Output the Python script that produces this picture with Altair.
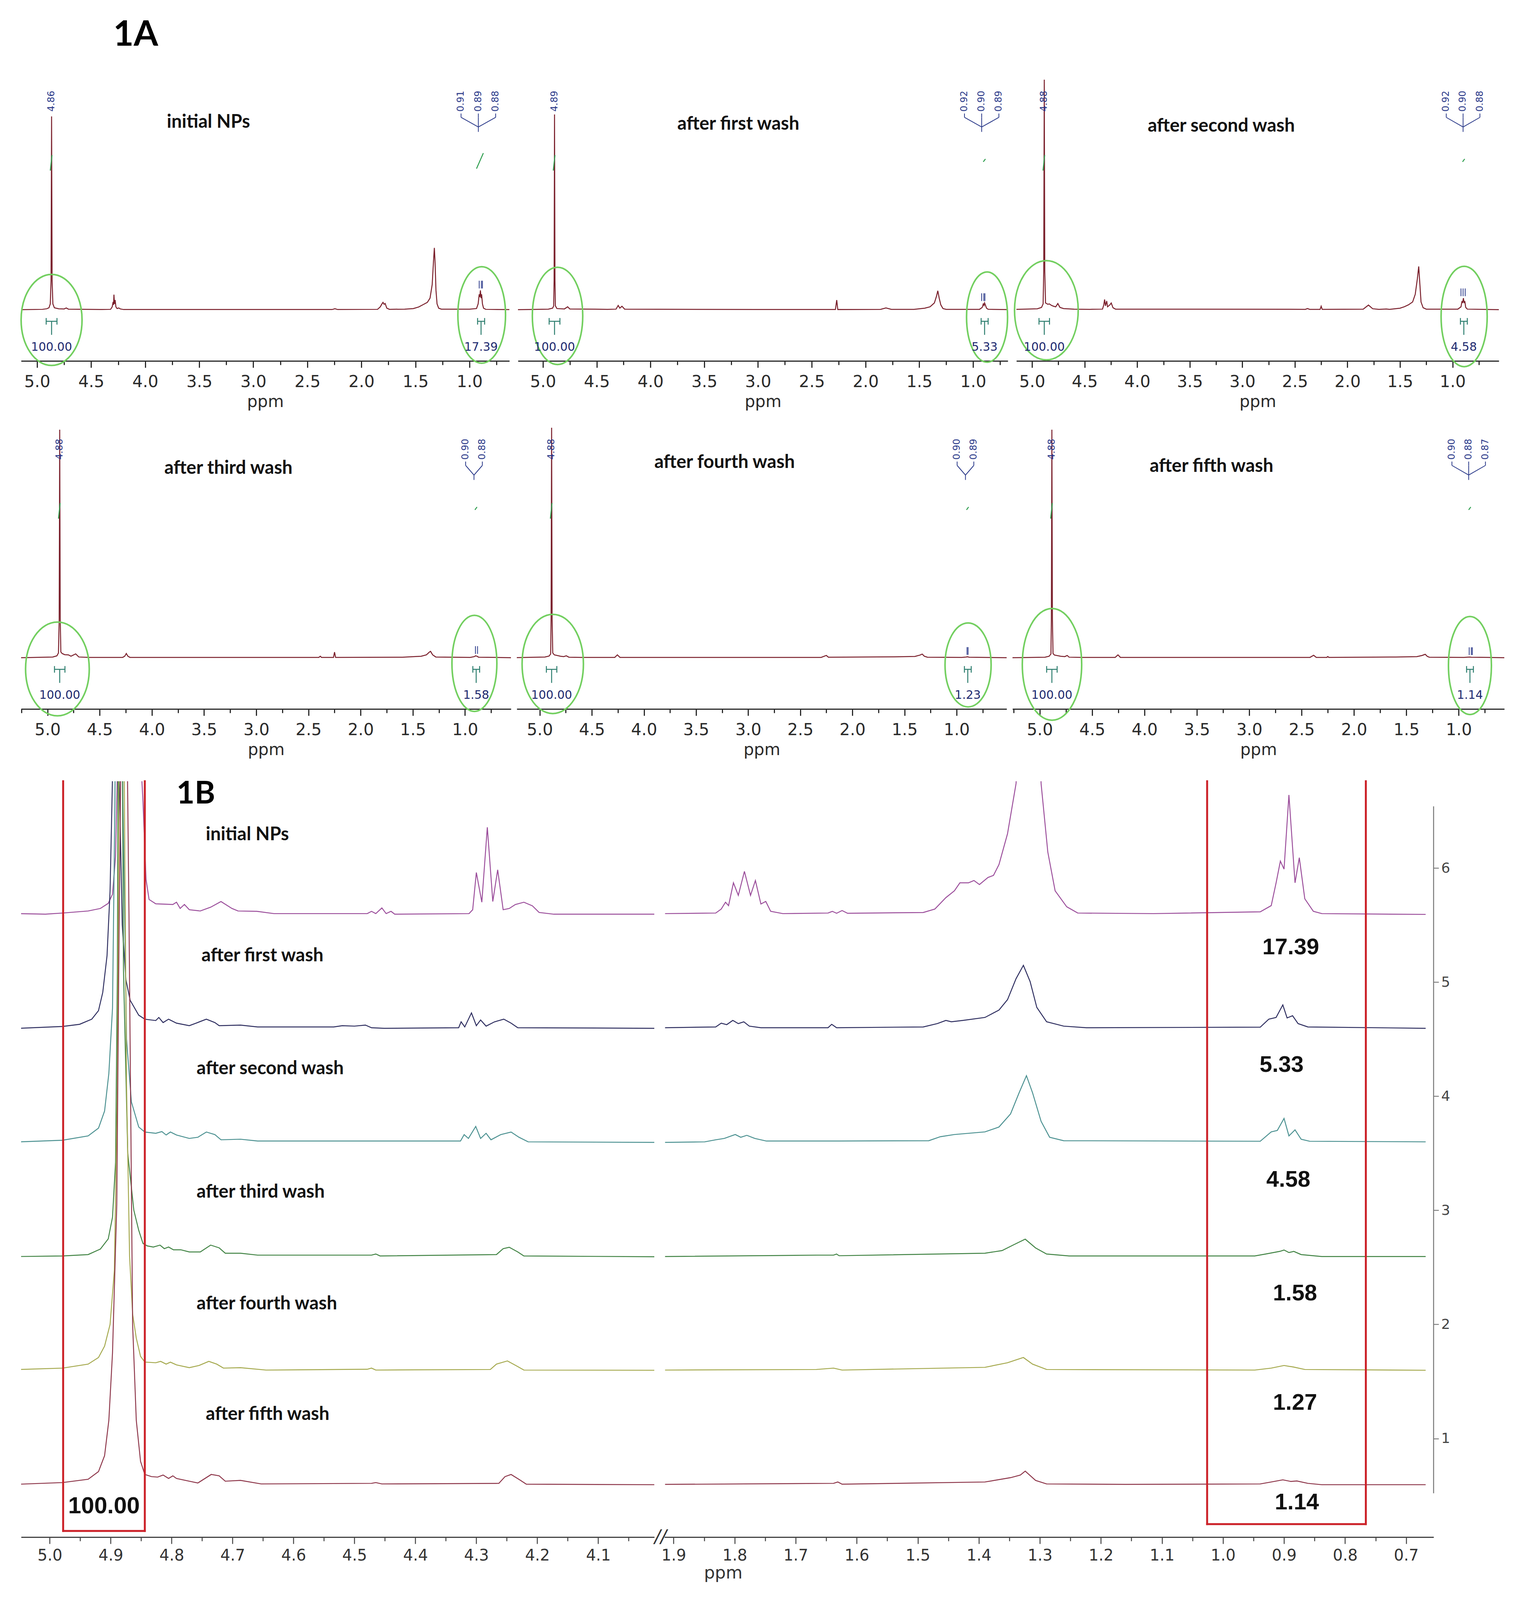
import altair as alt
import pandas as pd

# =====================================================================
# DATA  -  Figure 1A : one 1H-NMR spectrum per panel (ppm, intensity)
# =====================================================================
A_TITLES = ["initial NPs", "after first wash", "after second wash",
            "after third wash", "after fourth wash", "after fifth wash"]

A_SPEC_INIT = [(5.149, 0), (4.95, 0.2), (4.91, 0.5), (4.89, 1.0), (4.878, 3), (4.871, 15), (4.866, 100),
               (4.861, 15), (4.854, 3), (4.84, 1.0), (4.80, 0.5), (4.75, 0.4), (4.73, 0.9), (4.71, 0.3),
               (4.40, 0.1), (4.32, 0.2), (4.305, 1.5), (4.297, 4), (4.293, 2.5), (4.289, 7.8), (4.284, 3),
               (4.278, 5), (4.271, 1.5), (4.26, 0.6), (4.245, 0.9), (4.23, 0.4), (4.20, 0.1), (2.27, 0.1),
               (2.245, 0.5), (2.22, 0.1), (1.85, 0.2), (1.825, 1.5), (1.81, 3), (1.80, 3.8), (1.79, 2.8),
               (1.78, 3.2), (1.765, 0.8), (1.74, 0.2), (1.60, 0.3), (1.52, 0.6), (1.47, 1.4), (1.43, 2.6),
               (1.39, 3.8), (1.365, 6), (1.345, 13), (1.333, 25), (1.325, 32), (1.318, 24), (1.31, 10),
               (1.30, 3), (1.285, 0.8), (1.26, 0.3), (1.00, 0.3), (0.935, 0.6), (0.92, 3), (0.91, 8),
               (0.905, 6.5), (0.899, 10), (0.893, 6), (0.888, 8), (0.88, 3), (0.87, 0.8), (0.85, 0.2), (0.52, 0)]
A_SPEC_W1 = [(5.26, 0), (4.95, 0.3), (4.91, 0.8), (4.90, 2), (4.896, 15), (4.892, 101), (4.888, 15), (4.884, 2),
             (4.87, 0.6), (4.80, 0.4), (4.77, 1.5), (4.75, 0.4), (4.40, 0.2), (4.32, 0.3), (4.30, 2.2),
             (4.285, 0.8), (4.265, 1.8), (4.24, 0.3), (3.0, 0.1), (2.28, 0.1), (2.268, 5), (2.258, 0.1),
             (1.86, 0.2), (1.81, 0.9), (1.76, 0.2), (1.55, 0.2), (1.45, 0.8), (1.40, 1.5), (1.36, 3.5),
             (1.34, 7), (1.328, 9.8), (1.315, 6), (1.30, 2.5), (1.28, 0.6), (1.25, 0.2), (0.94, 0.2),
             (0.915, 1.2), (0.905, 3), (0.898, 2.2), (0.893, 3.5), (0.886, 2.5), (0.875, 0.8), (0.86, 0.2), (0.52, 0)]
A_SPEC_W2 = [(5.26, 0), (4.95, 0.5), (4.91, 1.2), (4.895, 3), (4.889, 20), (4.884, 119), (4.879, 20), (4.872, 3.5),
             (4.85, 2.8), (4.835, 3), (4.815, 2.2), (4.795, 1.8), (4.775, 1.5), (4.755, 3.2), (4.735, 1.2),
             (4.70, 0.6), (4.60, 0.3), (4.45, 0.2), (4.33, 0.3), (4.318, 2.5), (4.31, 5.3), (4.302, 2),
             (4.29, 4.5), (4.282, 1.5), (4.26, 2.5), (4.247, 3.5), (4.23, 1), (4.206, 0.3), (2.40, 0.2),
             (2.38, 0.6), (2.36, 0.2), (2.26, 0.2), (2.25, 1.8), (2.24, 0.2), (1.85, 0.3), (1.80, 2.4),
             (1.76, 0.5), (1.70, 0.2), (1.63, 0.4), (1.60, 0.2), (1.50, 0.8), (1.46, 1.5), (1.42, 2.5),
             (1.38, 4), (1.355, 8), (1.335, 16), (1.322, 22.4), (1.312, 14), (1.30, 4), (1.28, 1), (1.25, 0.3),
             (0.95, 0.3), (0.92, 1.5), (0.91, 4.5), (0.904, 3.5), (0.897, 6), (0.89, 3.5), (0.884, 4.5),
             (0.875, 1.2), (0.86, 0.3), (0.52, 0)]
A_SPEC_W3 = [(5.26, 0), (4.95, 0.4), (4.91, 1.0), (4.895, 2.5), (4.888, 20), (4.883, 118), (4.878, 20), (4.872, 3),
             (4.86, 2.2), (4.835, 1.6), (4.80, 1.5), (4.775, 0.8), (4.73, 2), (4.70, 0.4), (4.60, 0.2),
             (4.28, 0.2), (4.26, 0.8), (4.245, 2.2), (4.23, 0.8), (4.21, 0.2), (2.40, 0.2), (2.387, 0.8),
             (2.375, 0.2), (2.26, 0.2), (2.25, 2.9), (2.24, 0.2), (1.60, 0.3), (1.42, 0.8), (1.37, 1.5),
             (1.34, 3.0), (1.33, 3.3), (1.31, 1.5), (1.28, 0.4), (0.95, 0.2), (0.91, 0.6), (0.90, 1.0),
             (0.885, 0.8), (0.87, 0.3), (0.52, 0)]
A_SPEC_W4 = [(5.26, 0), (4.95, 0.4), (4.91, 0.9), (4.895, 2), (4.891, 20), (4.886, 120), (4.881, 20), (4.875, 2.5),
             (4.86, 1.5), (4.80, 0.8), (4.77, 0.6), (4.745, 1.0), (4.72, 0.3), (4.60, 0.2), (4.28, 0.2),
             (4.255, 1.5), (4.23, 0.2), (2.30, 0.2), (2.25, 1.2), (2.23, 0.3), (1.60, 0.5), (1.40, 0.7),
             (1.35, 1.4), (1.33, 1.9), (1.31, 0.8), (1.28, 0.3), (0.95, 0.2), (0.91, 0.4), (0.895, 0.5),
             (0.88, 0.3), (0.52, 0)]
A_SPEC_W5 = [(5.26, 0), (4.95, 0.3), (4.91, 0.8), (4.893, 2), (4.889, 20), (4.884, 118), (4.879, 20), (4.873, 2.2),
             (4.86, 1.4), (4.80, 0.8), (4.76, 0.6), (4.738, 1.2), (4.72, 0.3), (4.60, 0.2), (4.28, 0.2),
             (4.253, 1.5), (4.23, 0.2), (2.42, 0.2), (2.385, 1.3), (2.36, 0.2), (2.26, 0.2), (2.25, 0.6),
             (2.24, 0.2), (1.60, 0.4), (1.40, 0.6), (1.35, 1.2), (1.32, 1.8), (1.30, 0.7), (1.28, 0.3),
             (0.95, 0.2), (0.91, 0.35), (0.895, 0.4), (0.88, 0.3), (0.52, 0)]
A_SPECS = [A_SPEC_INIT, A_SPEC_W1, A_SPEC_W2, A_SPEC_W3, A_SPEC_W4, A_SPEC_W5]

A_MAIN_SHIFT = ["4.86", "4.89", "4.88", "4.88", "4.88", "4.88"]
A_MAIN_PPM = [4.866, 4.892, 4.884, 4.883, 4.886, 4.884]
A_MULT_SHIFTS = [["0.91", "0.89", "0.88"], ["0.92", "0.90", "0.89"], ["0.92", "0.90", "0.88"],
                 ["0.90", "0.88"], ["0.90", "0.89"], ["0.90", "0.88", "0.87"]]
A_INT_MAIN = ["100.00", "100.00", "100.00", "100.00", "100.00", "100.00"]
A_INT_CH3 = ["17.39", "5.33", "4.58", "1.58", "1.23", "1.14"]

# =====================================================================
# DATA  -  Figure 1B : stacked spectra (ppm, height above own baseline)
# =====================================================================
B_NAMES = A_TITLES
B_OFFSETS = [5.6, 4.6, 3.6, 2.6, 1.6, 0.6]
B_INIT = [(5.049, 0.0), (5.007, -0.005), (4.979, 0.005), (4.937, 0.023), (4.917, 0.045), (4.904, 0.09),
          (4.897, 0.17), (4.892, 0.5), (4.888, 1.5), (4.870, 9.0), (4.852, 1.5), (4.847, 0.98), (4.842, 0.30),
          (4.837, 0.124), (4.826, 0.086), (4.798, 0.08), (4.792, 0.10), (4.786, 0.045), (4.779, 0.08),
          (4.771, 0.034), (4.753, 0.023), (4.736, 0.056), (4.719, 0.106), (4.701, 0.045), (4.691, 0.023),
          (4.660, 0.02), (4.632, 0.0), (4.479, 0.0), (4.472, 0.02), (4.465, 0.0), (4.455, 0.05), (4.448, 0.0),
          (4.440, 0.02), (4.434, -0.005), (4.312, 0.0), (4.306, 0.034), (4.300, 0.36), (4.291, 0.10),
          (4.282, 0.757), (4.273, 0.106), (4.265, 0.384), (4.256, 0.034), (4.246, 0.045), (4.236, 0.08),
          (4.222, 0.10), (4.208, 0.068), (4.197, 0.01), (4.173, -0.005), (4.008, -0.005),
          (1.914, 0.0), (1.831, 0.005), (1.822, 0.04), (1.815, 0.10), (1.810, 0.07), (1.802, 0.27),
          (1.794, 0.16), (1.784, 0.37), (1.774, 0.16), (1.766, 0.29), (1.757, 0.084), (1.749, 0.107),
          (1.741, 0.02), (1.721, 0.0), (1.647, 0.005), (1.640, 0.02), (1.633, 0.003), (1.624, 0.027),
          (1.615, 0.003), (1.491, 0.01), (1.472, 0.04), (1.454, 0.14), (1.440, 0.20), (1.431, 0.27),
          (1.417, 0.27), (1.408, 0.29), (1.399, 0.255), (1.385, 0.317), (1.376, 0.335), (1.367, 0.43),
          (1.353, 0.70), (1.339, 1.14), (1.327, 2.5), (1.316, 3.2), (1.305, 2.5), (1.298, 1.14), (1.287, 0.54),
          (1.275, 0.20), (1.256, 0.06), (1.238, 0.005), (1.114, 0.0), (0.939, 0.016), (0.921, 0.07),
          (0.913, 0.27), (0.906, 0.46), (0.900, 0.39), (0.892, 1.04), (0.882, 0.27), (0.875, 0.49),
          (0.866, 0.13), (0.852, 0.02), (0.838, 0.0), (0.668, -0.007)]
B_WASH1 = [(5.049, -0.005), (4.979, 0.011), (4.951, 0.03), (4.931, 0.075), (4.920, 0.15), (4.913, 0.31),
           (4.906, 0.63), (4.901, 1.2), (4.897, 2.2), (4.892, 9.0), (4.886, 2.2), (4.881, 0.9), (4.875, 0.42),
           (4.868, 0.24), (4.854, 0.11), (4.844, 0.075), (4.826, 0.063), (4.821, 0.09), (4.814, 0.045),
           (4.805, 0.075), (4.792, 0.04), (4.771, 0.018), (4.760, 0.04), (4.743, 0.075), (4.729, 0.045),
           (4.722, 0.018), (4.687, 0.023), (4.659, 0.007), (4.534, 0.007), (4.520, 0.018), (4.500, 0.014),
           (4.482, 0.023), (4.472, 0.0), (4.451, -0.005), (4.329, 0.0), (4.325, 0.052), (4.319, 0.007),
           (4.308, 0.13), (4.300, 0.018), (4.293, 0.068), (4.284, 0.014), (4.270, 0.052), (4.255, 0.075),
           (4.243, 0.04), (4.232, 0.0), (4.008, -0.005),
           (1.914, 0.0), (1.831, 0.007), (1.822, 0.04), (1.813, 0.027), (1.803, 0.064), (1.794, 0.036),
           (1.785, 0.052), (1.776, 0.014), (1.757, 0.0), (1.647, 0.0), (1.641, 0.03), (1.633, 0.0),
           (1.491, 0.007), (1.468, 0.036), (1.454, 0.064), (1.445, 0.052), (1.426, 0.064), (1.390, 0.09),
           (1.367, 0.155), (1.353, 0.246), (1.339, 0.43), (1.327, 0.547), (1.316, 0.405), (1.305, 0.178),
           (1.289, 0.052), (1.261, 0.014), (1.224, 0.0), (0.939, 0.005), (0.925, 0.075), (0.913, 0.09),
           (0.902, 0.20), (0.895, 0.086), (0.886, 0.105), (0.877, 0.036), (0.861, 0.007), (0.668, -0.005)]
B_WASH2 = [(5.049, 0.0), (4.979, 0.014), (4.937, 0.052), (4.920, 0.12), (4.910, 0.27), (4.903, 0.6),
           (4.897, 1.17), (4.893, 3.0), (4.887, 9.0), (4.880, 3.0), (4.874, 0.9), (4.866, 0.35), (4.854, 0.13),
           (4.844, 0.086), (4.826, 0.075), (4.816, 0.09), (4.809, 0.06), (4.802, 0.086), (4.792, 0.06),
           (4.771, 0.03), (4.757, 0.04), (4.743, 0.086), (4.729, 0.063), (4.719, 0.018), (4.687, 0.023),
           (4.659, 0.007), (4.465, 0.007), (4.326, 0.007), (4.320, 0.063), (4.313, 0.03), (4.301, 0.135),
           (4.293, 0.03), (4.284, 0.075), (4.276, 0.018), (4.260, 0.063), (4.243, 0.086), (4.230, 0.04),
           (4.215, 0.0), (4.008, -0.005),
           (1.914, -0.005), (1.849, 0.0), (1.831, 0.018), (1.817, 0.03), (1.799, 0.064), (1.790, 0.04),
           (1.780, 0.057), (1.767, 0.03), (1.748, 0.007), (1.629, 0.007), (1.482, 0.01), (1.463, 0.045),
           (1.440, 0.064), (1.390, 0.087), (1.367, 0.13), (1.348, 0.245), (1.334, 0.43), (1.322, 0.58),
           (1.312, 0.43), (1.298, 0.18), (1.284, 0.04), (1.261, 0.01), (0.939, 0.005), (0.921, 0.087),
           (0.911, 0.10), (0.900, 0.205), (0.892, 0.052), (0.882, 0.105), (0.872, 0.023), (0.858, 0.005),
           (0.668, 0.0)]
B_WASH3 = [(5.049, -0.005), (4.979, 0.0), (4.937, 0.012), (4.917, 0.06), (4.904, 0.15), (4.897, 0.34),
           (4.892, 0.82), (4.889, 2.5), (4.885, 9.0), (4.879, 2.5), (4.872, 0.9), (4.862, 0.40), (4.854, 0.225),
           (4.847, 0.11), (4.840, 0.088), (4.830, 0.078), (4.819, 0.095), (4.812, 0.064), (4.805, 0.078),
           (4.797, 0.054), (4.785, 0.054), (4.771, 0.035), (4.753, 0.035), (4.736, 0.095), (4.722, 0.071),
           (4.712, 0.024), (4.687, 0.024), (4.659, 0.007), (4.472, 0.007), (4.465, 0.017), (4.458, 0.0),
           (4.267, 0.012), (4.256, 0.064), (4.246, 0.076), (4.232, 0.035), (4.222, 0.0), (4.008, -0.007),
           (1.914, -0.005), (1.666, 0.007), (1.638, 0.007), (1.633, 0.017), (1.629, 0.002), (1.390, 0.024),
           (1.362, 0.047), (1.344, 0.095), (1.324, 0.147), (1.307, 0.07), (1.289, 0.017), (1.252, 0.0),
           (0.948, 0.0), (0.930, 0.017), (0.907, 0.04), (0.900, 0.052), (0.892, 0.03), (0.884, 0.04),
           (0.872, 0.012), (0.838, -0.005), (0.668, -0.005)]
B_WASH4 = [(5.049, 0.005), (4.979, 0.017), (4.937, 0.052), (4.920, 0.11), (4.910, 0.21), (4.901, 0.4),
           (4.894, 0.87), (4.889, 2.5), (4.883, 9.0), (4.874, 2.5), (4.869, 1.0), (4.864, 0.49), (4.858, 0.28),
           (4.851, 0.12), (4.844, 0.07), (4.826, 0.064), (4.818, 0.076), (4.809, 0.052), (4.802, 0.069),
           (4.792, 0.045), (4.771, 0.021), (4.755, 0.04), (4.739, 0.076), (4.726, 0.052), (4.715, 0.017),
           (4.687, 0.021), (4.645, 0.0), (4.479, 0.007), (4.472, 0.017), (4.465, 0.0), (4.277, 0.005),
           (4.267, 0.052), (4.249, 0.08), (4.234, 0.036), (4.222, 0.0), (4.008, -0.002),
           (1.914, 0.0), (1.666, 0.005), (1.638, 0.017), (1.624, 0.0), (1.390, 0.024), (1.353, 0.064),
           (1.327, 0.11), (1.312, 0.052), (1.289, 0.005), (0.948, 0.0), (0.921, 0.017), (0.900, 0.04),
           (0.884, 0.026), (0.866, 0.005), (0.668, -0.002)]
B_WASH5 = [(5.049, 0.0), (4.979, 0.014), (4.937, 0.043), (4.920, 0.11), (4.910, 0.25), (4.903, 0.56),
           (4.897, 1.15), (4.890, 2.45), (4.886, 5.0), (4.878, 9.0), (4.870, 5.0), (4.864, 1.4), (4.858, 0.56),
           (4.851, 0.2), (4.844, 0.085), (4.833, 0.066), (4.823, 0.062), (4.814, 0.08), (4.805, 0.05),
           (4.798, 0.073), (4.792, 0.05), (4.771, 0.026), (4.757, 0.01), (4.735, 0.085), (4.722, 0.073),
           (4.712, 0.026), (4.687, 0.033), (4.653, 0.002), (4.472, 0.007), (4.465, 0.014), (4.455, 0.002),
           (4.263, 0.007), (4.253, 0.066), (4.243, 0.085), (4.229, 0.038), (4.218, 0.0), (4.008, -0.005),
           (1.914, -0.002), (1.638, 0.007), (1.631, 0.019), (1.624, 0.0), (1.390, 0.019), (1.348, 0.057),
           (1.332, 0.08), (1.324, 0.114), (1.307, 0.033), (1.289, 0.002), (1.160, -0.002), (0.939, 0.002),
           (0.921, 0.019), (0.902, 0.038), (0.889, 0.024), (0.879, 0.028), (0.861, 0.007), (0.838, -0.005),
           (0.668, -0.005)]
B_SPECS = [B_INIT, B_WASH1, B_WASH2, B_WASH3, B_WASH4, B_WASH5]
B_CH3_VALUES = ["17.39", "5.33", "4.58", "1.58", "1.27", "1.14"]
B_MAIN_VALUE = "100.00"
B_Y_TICKS = [1, 2, 3, 4, 5, 6]

# =====================================================================
# LAYOUT / STYLE
# =====================================================================
A_DOM = [(5.148, 0.631), (5.232, 0.677), (5.149, 0.56), (5.253, 0.56), (5.22, 0.52), (5.26, 0.565)]
A_W = [1250, 1254, 1235, 1254, 1254, 1259]
A_H = 720
A_YDOM = [-26.5, 119]
A_TITLE_AT = [(3.80, 97), (3.75, 96), (3.90, 95), (3.88, 98), (3.90, 101), (3.95, 99)]
A_MULT_CENTER = [0.918, 0.92, 0.90, 0.914, 0.915, 0.905]
A_ELLIPSES = [[(4.866, -5.3, 156, 233), (0.887, -2.7, 122, 247)],
              [(4.864, -3.2, 129, 249), (0.870, -3.8, 105, 231)],
              [(4.864, -0.3, 163, 254), (0.890, -3.5, 118, 257)],
              [(4.905, -5.8, 163, 240), (0.910, -2.9, 115, 246)],
              [(4.875, -3.2, 157, 254), (0.890, -3.7, 118, 215)],
              [(4.883, -3.4, 152, 286), (0.893, -4.0, 110, 251)]]
A_TRACE = "#7a1f2b"
A_PICK = "#2b3a8a"
A_INTC = "#2f7f70"
A_INTV = "#1e2a70"
A_ELLC = "#72cf5f"

B_DOM = {"left": (5.047, 4.008), "right": (1.915, 0.655)}
B_W = {"left": 1621, "right": 1969}
B_H = 1935
B_YDOM = [0.136, 6.76]
B_COLORS = ["#9a4c9a", "#2c2c5e", "#4a9090", "#3f8242", "#a4a84c", "#8c3448"]
B_LABEL_AT = [(4.744, 6.29), (4.751, 5.23), (4.759, 4.24), (4.759, 3.16), (4.759, 2.18), (4.744, 1.21)]
B_VALUE_AT = [(0.889, 5.30), (0.904, 4.27), (0.893, 3.265), (0.882, 2.27), (0.882, 1.31), (0.879, 0.437)]
RED = "#cc2229"


def ellipse_path(w, h):
    rx = w / h
    k = 0.5523
    return (f"M0,-1C{k*rx:.4f},-1,{rx:.4f},-{k},{rx:.4f},0"
            f"C{rx:.4f},{k},{k*rx:.4f},1,0,1"
            f"C{-k*rx:.4f},1,{-rx:.4f},{k},{-rx:.4f},0"
            f"C{-rx:.4f},{-k},{-k*rx:.4f},-1,0,-1Z")


def tick_lists(lo, hi, start, step, nmax):
    vals = [round(start - step * k, 2) for k in range(nmax)]
    return [t for t in vals if lo <= t <= hi]


def panel_a(i):
    hi, lo = A_DOM[i]
    xs = alt.Scale(domain=[lo, hi], reverse=True, nice=False, zero=False)
    ys = alt.Scale(domain=A_YDOM, nice=False, zero=False)
    major = tick_lists(lo, hi, 5.5, 0.5, 12)
    minor = tick_lists(lo, hi, 5.25, 0.5, 12)
    ax_major = alt.Axis(values=major, format=".1f", title="ppm", grid=False, domainColor="#2a2a2a",
                        domainWidth=3, tickColor="#2a2a2a", tickWidth=3, tickSize=17,
                        labelFont="DejaVu Sans", labelFontSize=42, labelColor="#2a2a2a", labelPadding=16,
                        labelFlush=False, labelOverlap=False, titleFont="DejaVu Sans", titleFontSize=42,
                        titleFontWeight="normal", titleColor="#2a2a2a", titleY=84)
    ax_minor = alt.Axis(orient="bottom", values=minor, labels=False, domain=False, grid=False, title=None,
                        tickColor="#2a2a2a", tickWidth=3, tickSize=10)
    Xmaj = alt.X("ppm:Q", scale=xs, axis=ax_major)
    Xmin = alt.X("ppm:Q", scale=xs, axis=ax_minor)
    X = alt.X("ppm:Q", scale=xs, axis=None)
    Y = alt.Y("int:Q", scale=ys, axis=None)

    spec = pd.DataFrame(A_SPECS[i], columns=["ppm", "int"])
    layers = [alt.Chart(spec).mark_line(color=A_TRACE, strokeWidth=2.5, clip=True).encode(x=Xmaj, y=Y)]

    ell = pd.DataFrame([{"ppm": p, "int": v, "shape": ellipse_path(w, h), "sz": h * h}
                        for (p, v, w, h) in A_ELLIPSES[i]])
    layers.append(alt.Chart(ell).mark_point(filled=False, opacity=1, stroke=A_ELLC, strokeWidth=4).encode(
        x=Xmin, y=Y, shape=alt.Shape("shape:N", scale=None), size=alt.Size("sz:Q", scale=None)))

    c = A_MAIN_PPM[i]
    cm = A_MULT_CENTER[i]
    seg = []
    for (a, b, s) in [(c + 0.05, c - 0.05, c), (0.925, 0.86, 0.893)]:
        seg += [(a, -6, b, -6), (a, -4.3, a, -7.7), (b, -4.3, b, -7.7), (s, -6, s, -13)]
    pk = []
    labs = A_MULT_SHIFTS[i]
    n = len(labs)
    xl = [cm + 0.16 * ((n - 1) / 2 - j) for j in range(n)]
    for x in xl:
        pk += [(x, 101.5, x, 99.5), (x, 99.5, cm, 94.5)]
    pk.append((cm, 94.5, cm, 92.0))
    hm = max(v for p, v in A_SPECS[i] if 0.86 <= p <= 0.94)
    for t in labs:
        pk.append((float(t), hm + 1.0, float(t), hm + 5.0))
    cur = [(c + 0.012, 72, c - 0.004, 80)]
    cur.append((0.935, 73, 0.872, 81) if i == 0 else (0.905, 76.5, 0.885, 78))

    for rows, col, wd in [(seg, A_INTC, 2.5), (pk, A_PICK, 2), (cur, "#2e9e4e", 2.5)]:
        df = pd.DataFrame(rows, columns=["ppm", "int", "ppm2", "int2"])
        layers.append(alt.Chart(df).mark_rule(color=col, strokeWidth=wd).encode(
            x=X, y=Y, x2="ppm2:Q", y2="int2:Q"))

    tt = pd.DataFrame([{"ppm": A_TITLE_AT[i][0], "int": A_TITLE_AT[i][1], "label": A_TITLES[i]}])
    layers.append(alt.Chart(tt).mark_text(font="Lato", fontWeight="bold", fontSize=47, align="left",
                                          baseline="middle", color="#111").encode(x=X, y=Y, text="label:N"))
    pl = pd.DataFrame([{"ppm": c, "int": 102.5, "label": A_MAIN_SHIFT[i]}] +
                      [{"ppm": x, "int": 102.5, "label": t} for x, t in zip(xl, labs)])
    layers.append(alt.Chart(pl).mark_text(font="DejaVu Sans", fontSize=24, angle=270, align="left",
                                          baseline="middle", color=A_PICK).encode(x=X, y=Y, text="label:N"))
    iv = pd.DataFrame([{"ppm": c, "int": -19.5, "label": A_INT_MAIN[i]},
                       {"ppm": 0.893, "int": -19.5, "label": A_INT_CH3[i]}])
    layers.append(alt.Chart(iv).mark_text(font="DejaVu Sans", fontSize=30, align="center",
                                          baseline="middle", color=A_INTV).encode(x=X, y=Y, text="label:N"))
    if i == 0:
        fa = pd.DataFrame([{"ppm": 4.295, "int": 142, "label": "1A"}])
        layers.append(alt.Chart(fa).mark_text(font="Lato", fontWeight="bold", fontSize=90, align="left",
                                              baseline="middle", color="#000").encode(x=X, y=Y, text="label:N"))
    return alt.layer(*layers).resolve_axis(x="independent").properties(width=A_W[i], height=A_H)


def panel_b(side):
    hi, lo = B_DOM[side]
    xs = alt.Scale(domain=[lo, hi], reverse=True, nice=False, zero=False)
    ys = alt.Scale(domain=B_YDOM, nice=False, zero=False)
    major = tick_lists(lo, hi, 5.0, 0.1, 50)
    minor = tick_lists(lo, hi, 4.95, 0.1, 50)
    common = dict(grid=False, tickColor="#444", tickWidth=2.5, labelFlush=False, labelOverlap=False)
    if side == "right":
        ax_major = alt.Axis(values=major, format=".1f", title="ppm", domainColor="#444", domainWidth=3,
                            tickSize=17, labelFont="DejaVu Sans", labelFontSize=40, labelColor="#333",
                            labelPadding=10, titleFont="DejaVu Sans", titleFontSize=44,
                            titleFontWeight="normal", titleColor="#333", titleX=150, titleY=70,
                            titleAlign="center", **common)
        yax = alt.Axis(orient="right", values=B_Y_TICKS, format="d", domain=False, grid=False,
                       tickSize=13, tickColor="#666", tickWidth=2, labelFont="DejaVu Sans",
                       labelFontSize=36, labelColor="#444", labelPadding=6, title=None)
    else:
        ax_major = alt.Axis(values=major, format=".1f", title=None, domainColor="#444", domainWidth=3,
                            tickSize=17, labelFont="DejaVu Sans", labelFontSize=40, labelColor="#333",
                            labelPadding=10, **common)
        yax = None
    ax_minor = alt.Axis(orient="bottom", values=minor, labels=False, domain=False, title=None,
                        tickSize=10, **common)
    Xmaj = alt.X("ppm:Q", scale=xs, axis=ax_major)
    Xmin = alt.X("ppm:Q", scale=xs, axis=ax_minor)
    X = alt.X("ppm:Q", scale=xs, axis=None)
    Y = alt.Y("val:Q", scale=ys, axis=yax)

    rows = []
    for name, off, spec in zip(B_NAMES, B_OFFSETS, B_SPECS):
        for p, h in spec:
            if (side == "left" and p >= 3) or (side == "right" and p < 3):
                rows.append({"ppm": p, "val": h + off, "trace": name})
    df = pd.DataFrame(rows)
    layers = [alt.Chart(df).mark_line(strokeWidth=2.4, clip=True).encode(
        x=Xmaj, y=Y,
        color=alt.Color("trace:N", scale=alt.Scale(domain=B_NAMES, range=B_COLORS), legend=None))]

    if side == "left":
        box = [(4.978, 0.19, 4.978, 6.76), (4.844, 0.19, 4.844, 6.76), (4.978, 0.19, 4.844, 0.19)]
    else:
        box = [(1.026, 0.25, 1.026, 6.76), (0.766, 0.25, 0.766, 6.76), (1.026, 0.25, 0.766, 0.25)]
    bdf = pd.DataFrame(box, columns=["ppm", "val", "ppm2", "val2"])
    layers.append(alt.Chart(bdf).mark_rule(color=RED, strokeWidth=5, strokeCap="square").encode(
        x=Xmin, y=Y, x2="ppm2:Q", y2="val2:Q"))

    if side == "left":
        lab = pd.DataFrame([{"ppm": p, "val": v, "label": t} for (p, v), t in zip(B_LABEL_AT, B_NAMES)])
        layers.append(alt.Chart(lab).mark_text(font="Lato", fontWeight="bold", fontSize=47, align="left",
                                               baseline="middle", color="#111").encode(x=X, y=Y, text="label:N"))
        fb = pd.DataFrame([{"ppm": 4.792, "val": 6.648, "label": "1B"}])
        layers.append(alt.Chart(fb).mark_text(font="Lato", fontWeight="bold", fontSize=80, align="left",
                                              baseline="middle", color="#000").encode(x=X, y=Y, text="label:N"))
        mv = pd.DataFrame([{"ppm": 4.911, "val": 0.405, "label": B_MAIN_VALUE}])
        layers.append(alt.Chart(mv).mark_text(font="Liberation Sans", fontWeight="bold", fontSize=60,
                                              align="center", baseline="middle", color="#111").encode(
            x=X, y=Y, text="label:N"))
    else:
        vals = pd.DataFrame([{"ppm": p, "val": v, "label": t} for (p, v), t in zip(B_VALUE_AT, B_CH3_VALUES)])
        layers.append(alt.Chart(vals).mark_text(font="Liberation Sans", fontWeight="bold", fontSize=58,
                                                align="center", baseline="middle", color="#111").encode(
            x=X, y=Y, text="label:N"))
        yl = pd.DataFrame([(0.655, 0.52, 0.655, 6.54)], columns=["ppm", "val", "ppm2", "val2"])
        layers.append(alt.Chart(yl).mark_rule(color="#777", strokeWidth=2.5).encode(
            x=X, y=Y, x2="ppm2:Q", y2="val2:Q"))
        brk = pd.DataFrame([{"ppm": 1.9214, "val": B_YDOM[0], "label": "//"}])
        layers.append(alt.Chart(brk).mark_text(font="DejaVu Sans", fontSize=46, fontStyle="italic",
                                               align="center", baseline="middle", color="#333").encode(
            x=X, y=Y, text="label:N"))
    return alt.layer(*layers).resolve_axis(x="independent").properties(width=B_W[side], height=B_H)


row1 = alt.hconcat(panel_a(0), panel_a(1), panel_a(2), spacing=22, bounds="flush")
row2 = alt.hconcat(panel_a(3), panel_a(4), panel_a(5), spacing=15, bounds="flush")
sec_a = alt.vconcat(row1, row2, spacing=46)
row_b = alt.hconcat(panel_b("left"), panel_b("right"), spacing=26, bounds="flush")

chart = alt.vconcat(sec_a, row_b, spacing=52).properties(
    padding={"left": 38, "top": 37, "right": 5, "bottom": 40},
    background="white",
).configure_view(stroke=None)

chart.save("out.html", embed_options={"renderer": "svg", "actions": False})
